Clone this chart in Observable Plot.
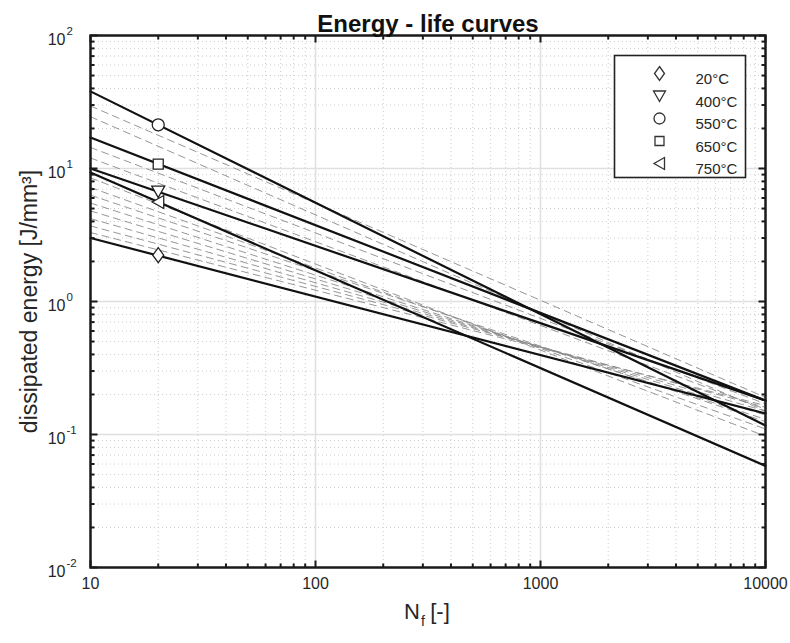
<!DOCTYPE html>
<html><head><meta charset="utf-8">
<script src="https://cdn.jsdelivr.net/npm/d3@7"></script>
<script src="https://cdn.jsdelivr.net/npm/@observablehq/plot@0.6"></script>
<style>body{margin:0;background:#fff}</style>
</head><body><div id="chart"></div>
<script>
// ---- data ----
const temps = ["20°C", "400°C", "550°C", "650°C", "750°C"];
const nStart = 10, nEnd = 10000, nMarker = 20;
const eStart = [3.0, 10.0, 38.0, 17.1, 9.33];      // energy at N = 10
const eEnd = [0.144, 0.18, 0.117, 0.18, 0.058];     // energy at N = 10000
const eMarker = [2.23, 6.7, 21.3, 10.8, 5.6];       // marker at N = 20
const dashStart = [29.5, 24.5, 14.4, 12.0, 8.5, 7.2, 6.3, 5.5, 4.8, 4.2, 3.7, 3.3];
const dashEnd = [0.19, 0.15, 0.17, 0.155, 0.097, 0.11, 0.125, 0.13, 0.14, 0.15, 0.16, 0.165];
const xTicks = [10, 100, 1000, 10000];
const yTicks = [0.01, 0.1, 1, 10, 100];
const xMinor = [10, 100, 1000].flatMap(b => [2,3,4,5,6,7,8,9].map(k => b * k));
const yMinor = [0.01, 0.1, 1, 10].flatMap(b => [2,3,4,5,6,7,8,9].map(k => +(b * k).toPrecision(3)));

// ---- tables ----
const solid = temps.flatMap((t, i) => [{t, N: nStart, E: eStart[i]}, {t, N: nEnd, E: eEnd[i]}]);
const dashed = dashStart.flatMap((s, i) => [{id: i, N: nStart, E: s}, {id: i, N: nEnd, E: dashEnd[i]}]);
const markers = temps.map((t, i) => ({t, N: nMarker, E: eMarker[i]}));

// ---- symbols (MATLAB-like markers) ----
const poly = pts => ({draw(ctx) { ctx.moveTo(...pts[0]); for (const p of pts.slice(1)) ctx.lineTo(...p); ctx.closePath(); }});
const symDiamond = poly([[0,-7.5],[5.5,0],[0,7.5],[-5.5,0]]);
const symTriDown = poly([[-6.5,-5.5],[6.5,-5.5],[0,6]]);
const symCircle = {draw(ctx) { ctx.moveTo(6,0); ctx.arc(0,0,6,0,2*Math.PI); ctx.closePath(); }};
const symSquare = poly([[-5,-5],[5,-5],[5,5],[-5,5]]);
const symTriLeft = poly([[5.5,-6.5],[5.5,6.5],[-6,0]]);
const syms = [symDiamond, symTriDown, symCircle, symSquare, symTriLeft];
const legSyms = [poly([[0,-7],[5,0],[0,7],[-5,0]]), poly([[-6,-5],[6,-5],[0,5.5]]),
  {draw(ctx) { ctx.moveTo(5.5,0); ctx.arc(0,0,5.5,0,2*Math.PI); ctx.closePath(); }},
  poly([[-4.5,-4.5],[4.5,-4.5],[4.5,4.5],[-4.5,4.5]]), poly([[5,-6],[5,6],[-5.5,0]])];

const tick = (dx, dy) => ({draw(ctx) { ctx.moveTo(0,0); ctx.lineTo(dx, dy); }});

const ink = "#262626";
const plot = Plot.plot({
  width: 790, height: 643,
  marginLeft: 90, marginRight: 25, marginTop: 35, marginBottom: 76,
  x: {type: "log", domain: [10, 10000], axis: null},
  y: {type: "log", domain: [0.01, 100], axis: null},
  style: {fontFamily: "'Liberation Sans', Arial, sans-serif", color: ink, background: "#fff", overflow: "visible"},
  marks: [
    // grid
    Plot.ruleX(xMinor, {x: d => d, stroke: "#cccccc", strokeWidth: 1, strokeDasharray: "1,3"}),
    Plot.ruleY(yMinor, {y: d => d, stroke: "#cccccc", strokeWidth: 1, strokeDasharray: "1,3"}),
    Plot.ruleX(xTicks.slice(1, -1), {x: d => d, stroke: "#e0e0e0", strokeWidth: 1.5}),
    Plot.ruleY(yTicks.slice(1, -1), {y: d => d, stroke: "#e0e0e0", strokeWidth: 1.5}),
    // curves
    Plot.line(dashed, {x: "N", y: "E", z: "id", stroke: "#8a8a8a", strokeWidth: 0.9, strokeDasharray: "7,5"}),
    Plot.line(solid, {x: "N", y: "E", z: "t", stroke: "#111", strokeWidth: 2.2}),
    ...markers.map((m, i) => Plot.dot([m], {x: "N", y: "E", symbol: syms[i], fill: "white", stroke: "#222", strokeWidth: 1.3})),
    // frame and inward ticks
    Plot.frame({stroke: "#1a1a1a", strokeWidth: 2.5}),
    Plot.dot(xTicks, {x: d => d, frameAnchor: "bottom", symbol: tick(0, -7), stroke: "#1a1a1a", strokeWidth: 2}),
    Plot.dot(xMinor, {x: d => d, frameAnchor: "bottom", symbol: tick(0, -4), stroke: "#1a1a1a", strokeWidth: 2}),
    Plot.dot(xTicks, {x: d => d, frameAnchor: "top", symbol: tick(0, 7), stroke: "#1a1a1a", strokeWidth: 2}),
    Plot.dot(xMinor, {x: d => d, frameAnchor: "top", symbol: tick(0, 4), stroke: "#1a1a1a", strokeWidth: 2}),
    Plot.dot(yTicks, {y: d => d, frameAnchor: "left", symbol: tick(7, 0), stroke: "#1a1a1a", strokeWidth: 2}),
    Plot.dot(yMinor, {y: d => d, frameAnchor: "left", symbol: tick(4, 0), stroke: "#1a1a1a", strokeWidth: 2}),
    Plot.dot(yTicks, {y: d => d, frameAnchor: "right", symbol: tick(-7, 0), stroke: "#1a1a1a", strokeWidth: 2}),
    Plot.dot(yMinor, {y: d => d, frameAnchor: "right", symbol: tick(-4, 0), stroke: "#1a1a1a", strokeWidth: 2}),
    // tick labels
    Plot.text(xTicks, {x: d => d, frameAnchor: "bottom", dy: 21, text: d => String(d), fontSize: 16, fill: ink}),
    Plot.text(yTicks, {y: d => d, frameAnchor: "left", dx: -25, dy: 4, textAnchor: "end", text: () => "10", fontSize: 16, fill: ink}),
    Plot.text(yTicks, {y: d => d, frameAnchor: "left", dx: -24, dy: -4, textAnchor: "start", text: d => String(Math.round(Math.log10(d))), fontSize: 11.5, fill: ink}),
    // axis labels and title
    Plot.text(["N"], {frameAnchor: "bottom", dx: -16, dy: 51, text: d => d, fontSize: 22, fill: ink}),
    Plot.text(["f"], {frameAnchor: "bottom", dx: -5, dy: 58, text: d => d, fontSize: 14, fill: ink}),
    Plot.text(["[-]"], {frameAnchor: "bottom", dx: 12, dy: 51, text: d => d, fontSize: 22, fill: ink}),
    Plot.text(["dissipated energy [J/mm³]"], {frameAnchor: "left", dx: -61, dy: 0, rotate: -90, textAnchor: "middle", text: d => d, fontSize: 23, fill: ink}),
    Plot.text(["Energy - life curves"], {frameAnchor: "top", dy: -21, text: d => d, fontSize: 24, fontWeight: "bold", fill: "#111"}),
    // legend
    Plot.frame({insetLeft: 524, insetRight: 20, insetTop: 20, insetBottom: 390, fill: "white", stroke: "#222", strokeWidth: 1.6}),
    ...temps.map((t, i) => Plot.dot([t], {frameAnchor: "top-left", dx: 569, dy: 38 + i * 22.5, symbol: legSyms[i], fill: "white", stroke: "#333", strokeWidth: 1.3})),
    ...temps.map((t, i) => Plot.text([t], {frameAnchor: "top-left", dx: 605, dy: 38 + i * 22.5, text: d => d, textAnchor: "start", fontSize: 15, fill: ink}))
  ]
});
document.getElementById("chart").appendChild(plot);
</script>
</body></html>
